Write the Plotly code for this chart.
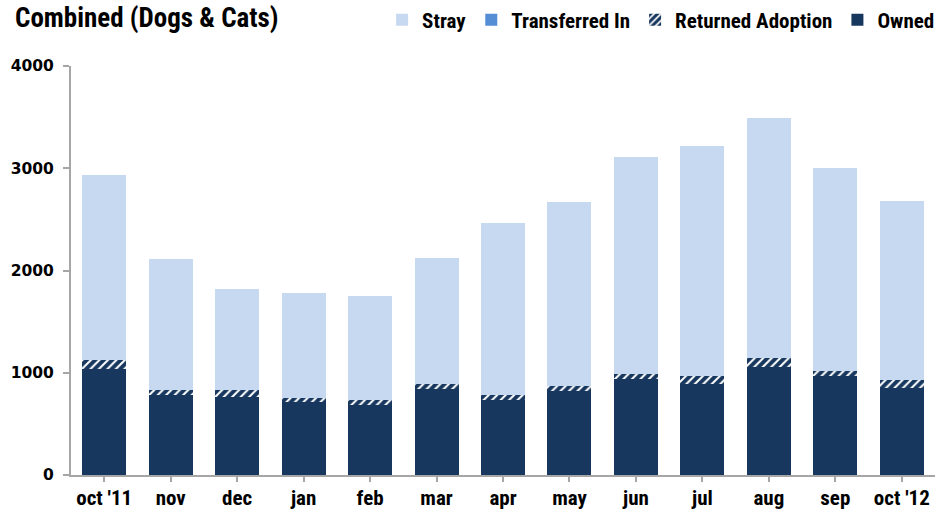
import plotly.graph_objects as go

categories = ["oct '11", "nov", "dec", "jan", "feb", "mar", "apr", "may",
              "jun", "jul", "aug", "sep", "oct '12"]
owned = [1037, 779, 766, 711, 681, 841, 737, 825, 936, 887, 1059, 965, 848]
returned_adoption = [88, 52, 65, 45, 49, 49, 48, 48, 55, 78, 88, 55, 81]
transferred_in = [0, 0, 0, 0, 0, 0, 0, 0, 0, 0, 0, 0, 0]
stray = [1809, 1281, 988, 1024, 1020, 1232, 1679, 1797, 2119, 2253, 2344, 1982, 1751]
y_ticks = [0, 1000, 2000, 3000, 4000]

NARROW = "Roboto Condensed, DejaVu Sans Condensed, sans-serif"

fig = go.Figure()
fig.add_trace(go.Bar(name="Owned", x=categories, y=owned,
                     marker=dict(color="#17375e", line=dict(width=0))))
fig.add_trace(go.Bar(name="Returned Adoption", x=categories, y=returned_adoption,
                     marker=dict(color="#17375e", line=dict(width=0),
                                 pattern=dict(shape="/", bgcolor="#17375e",
                                              fgcolor="#ffffff", size=6,
                                              solidity=0.35, fillmode="replace"))))
fig.add_trace(go.Bar(name="Transferred In", x=categories, y=transferred_in,
                     marker=dict(color="#558ed5", line=dict(width=0))))
fig.add_trace(go.Bar(name="Stray", x=categories, y=stray,
                     marker=dict(color="#c6d9f1", line=dict(width=0))))

fig.update_layout(
    barmode="stack",
    bargap=0.337,
    width=942, height=515,
    margin=dict(l=71, r=7, t=66, b=40, autoexpand=False),
    plot_bgcolor="white", paper_bgcolor="white",
    title=dict(text="<b>Combined (Dogs &amp; Cats)</b>", x=15/942, xanchor="left",
               xref="container", y=1-18/515, yanchor="middle", yref="container",
               font=dict(family=NARROW, size=27, color="#000000")),
    legend=dict(orientation="h", traceorder="reversed", xref="container",
                x=0.998, xanchor="right", yref="container", y=1-20/515,
                yanchor="middle",
                font=dict(family=NARROW, size=21, color="#000000", weight="bold"),
                bgcolor="rgba(0,0,0,0)"),
    xaxis=dict(showline=True, linecolor="#a6a6a6", linewidth=2, automargin=False,
               ticks="outside", ticklen=5, tickwidth=2, tickcolor="#a6a6a6",
               tickfont=dict(family=NARROW, size=21, color="#000000", weight="bold"),
               showgrid=False, ticklabelstandoff=-2),
    yaxis=dict(range=[0, 4000], tickvals=y_ticks, showline=True, automargin=False,
               linecolor="#a6a6a6", linewidth=2, ticks="outside", ticklen=6,
               tickwidth=2, tickcolor="#a6a6a6", showgrid=False, zeroline=False,
               tickfont=dict(family="DejaVu Sans, sans-serif", size=15.5,
                             color="#000000", weight="bold"),
               ticklabelstandoff=6),
    font=dict(family=NARROW),
)
fig.write_html("out.html", config={"displayModeBar": False},
               post_script="document.body.style.margin='0';")
